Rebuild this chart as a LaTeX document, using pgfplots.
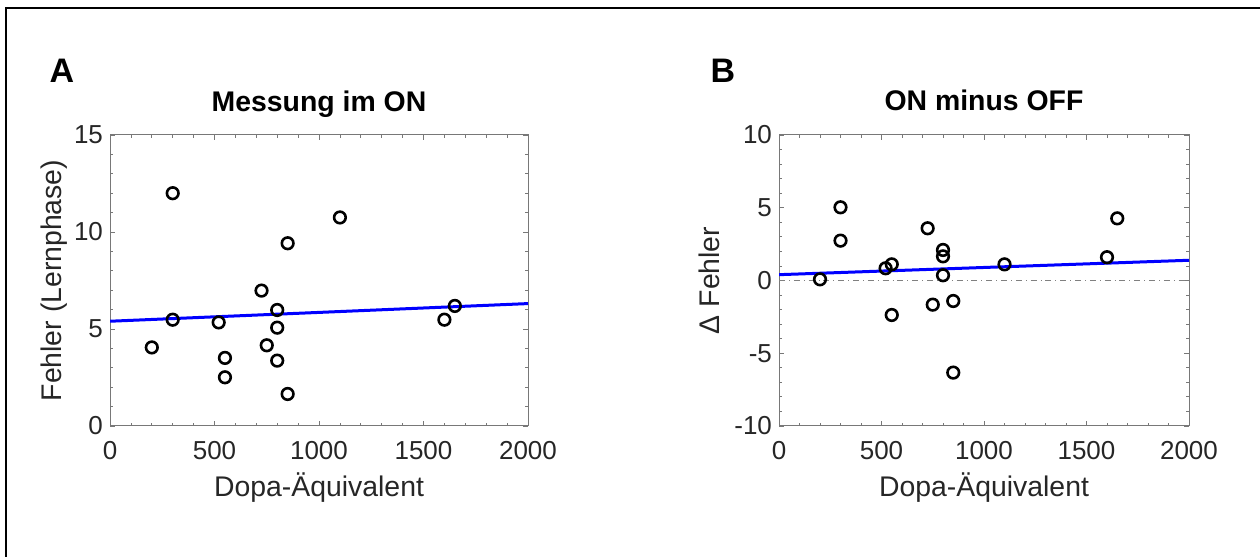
\documentclass[border=0pt]{standalone}
\usepackage{fontspec}
\setmainfont{Liberation Sans}
\usepackage{pgfplots}
\usepackage{pgfplotstable}
\pgfplotsset{compat=1.18}

\definecolor{axgray}{RGB}{120,120,120}
\definecolor{txtgray}{RGB}{38,38,38}
\definecolor{mblue}{RGB}{0,0,255}

\pgfplotstableread{
x y
300 12.0
1100 10.75
850 9.42
725 6.98
800 5.98
300 5.48
520 5.34
800 5.07
200 4.05
750 4.16
550 3.51
800 3.37
550 2.51
850 1.65
1600 5.48
1650 6.19
}\dataA

\pgfplotstableread{
x y
200 0.08
300 5.03
300 2.74
520 0.84
550 1.11
550 -2.37
725 3.59
750 -1.66
800 2.10
800 1.66
800 0.36
850 -1.41
850 -6.33
1100 1.11
1600 1.60
1650 4.27
}\dataB

\pgfplotsset{
 myax/.style={
  scale only axis,
  height=145.5pt,
  xmin=0,xmax=2000,
  xtick={0,500,...,2000},
  minor x tick num=4,
  minor y tick num=4,
  tick align=inside,
  xtick pos=both, ytick pos=both,
  major tick length=2.5pt,
  minor tick length=1.5pt,
  axis line style={axgray, line width=0.5pt},
  every tick/.style={axgray, line width=0.4pt},
  tick label style={font=\fontsize{13}{15}\selectfont, text=txtgray},
  /pgf/number format/assume math mode=true,
  /pgf/number format/1000 sep={},
  scaled ticks=false,
  xticklabel style={yshift=-4.2pt},
  label style={font=\fontsize{14.2}{17}\selectfont, text=txtgray},
  title style={font=\fontsize{14.2}{17}\selectfont\bfseries, at={(axis description cs:0.5,1)}, anchor=base, yshift=6pt},
  xlabel style={at={(axis description cs:0.5,0)}, anchor=base, yshift=-35.5pt},
 }
}

\begin{document}
\begin{tikzpicture}
\path[use as bounding box] (0,0) rectangle (630pt,278.5pt);
\draw[line width=1.2pt] (3pt,0) -- (3pt,274.5pt) -- (630pt,274.5pt);
\node[font=\fontsize{17}{20}\selectfont\bfseries] at (31pt,243pt) {A};
\node[font=\fontsize{17}{20}\selectfont\bfseries] at (361.5pt,243pt) {B};

\begin{axis}[myax,
  at={(55pt,65.5pt)}, anchor=south west,
  width=209pt,
  ymin=0, ymax=15, ytick={0,5,10,15},
  title={Messung im ON},
  xlabel={Dopa-Äquivalent},
  ylabel={Fehler (Lernphase)},
  ylabel style={at={(axis description cs:-0.115,0.5)}, anchor=base},
]
\addplot[mblue, line width=1.5pt] coordinates {(0,5.40) (2000,6.31)};
\addplot[only marks, mark=o, mark size=2.9pt, line width=1.3pt, black] table[x=x,y=y] {\dataA};
\end{axis}

\begin{axis}[myax,
  at={(389.5pt,65.5pt)}, anchor=south west,
  width=205pt,
  ymin=-10, ymax=10, ytick={-10,-5,0,5,10},
  title={ON minus OFF},
  xlabel={Dopa-Äquivalent},
  ylabel={Δ Fehler},
  ylabel style={at={(axis description cs:-0.146,0.5)}, anchor=base},
]
\addplot[gray, dash dot, line width=0.5pt] coordinates {(0,0) (2000,0)};
\addplot[mblue, line width=1.5pt] coordinates {(0,0.40) (2000,1.39)};
\addplot[only marks, mark=o, mark size=2.9pt, line width=1.3pt, black] table[x=x,y=y] {\dataB};
\end{axis}
\end{tikzpicture}
\end{document}
